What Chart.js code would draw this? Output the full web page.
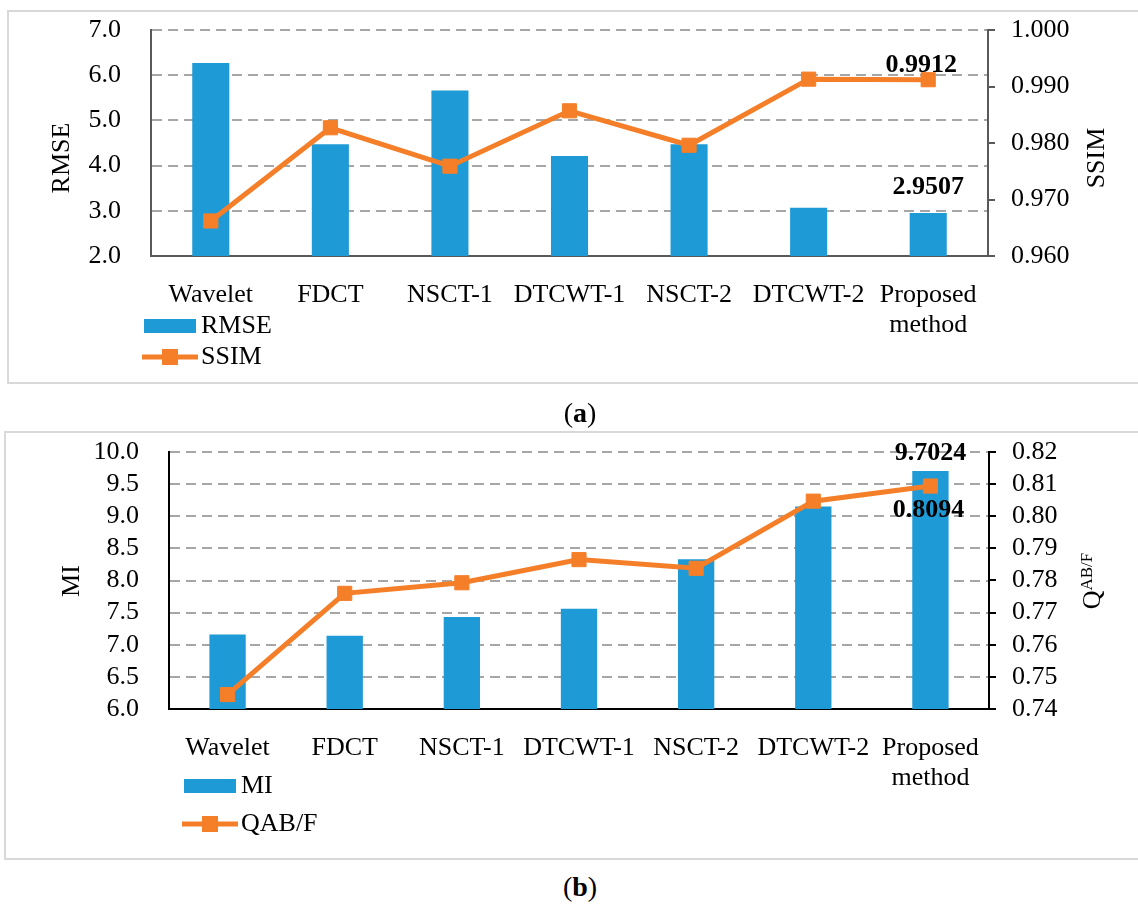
<!DOCTYPE html>
<html>
<head>
<meta charset="utf-8">
<script src="https://cdn.jsdelivr.net/npm/chart.js@4.4.0/dist/chart.umd.min.js"></script>
<style>
body{margin:0;background:#fff;width:1138px;height:906px;overflow:hidden;position:relative;font-family:'Liberation Serif','Times New Roman',serif}
.box{position:absolute;border:2px solid #d9d9d9;box-sizing:border-box;width:1160px}
#boxA{left:7px;top:10px;height:374px}
#boxB{left:4px;top:431px;height:429px}
canvas{position:absolute;left:0}
#chartA{top:0}
#chartB{top:400px}
.cap{position:absolute;left:0;width:1160px;text-align:center;font-size:28px;line-height:30px}
</style>
</head>
<body>
<div class="box" id="boxA"></div>
<div class="box" id="boxB"></div>
<canvas id="chartA" width="1138" height="383"></canvas>
<canvas id="chartB" width="1138" height="460"></canvas>
<div class="cap" style="top:398px">(<b>a</b>)</div>
<div class="cap" style="top:872px">(<b>b</b>)</div>
<script>
// categories and values
const methods = ['Wavelet', 'FDCT', 'NSCT-1', 'DTCWT-1', 'NSCT-2', 'DTCWT-2', ['Proposed', 'method']];
const rmse = [6.27, 4.47, 5.66, 4.21, 4.47, 3.07, 2.9507];
const ssim = [0.9662, 0.9827, 0.9759, 0.9857, 0.9796, 0.9913, 0.9912];
const mi = [7.16, 7.14, 7.43, 7.56, 8.33, 9.15, 9.7024];
const qabf = [0.7445, 0.7760, 0.7793, 0.7865, 0.7838, 0.8047, 0.8094];

// axis tick ranges
const rmseTicks = [2, 3, 4, 5, 6, 7];
const ssimTicks = [0.96, 0.97, 0.98, 0.99, 1.0];
const miTicks = [6, 6.5, 7, 7.5, 8, 8.5, 9, 9.5, 10];
const qabfTicks = [0.74, 0.75, 0.76, 0.77, 0.78, 0.79, 0.80, 0.81, 0.82];

const BLUE = '#1e9ad6';
const ORANGE = '#f57f29';
const GRID = '#a6a6a6';
const FAMILY = "'Liberation Serif', 'Times New Roman', serif";

Chart.defaults.font.family = FAMILY;
Chart.defaults.font.size = 26;
Chart.defaults.color = '#000';

// axis titles, legend and value labels
const extras = {
  id: 'extras',
  afterDraw(chart, args, o) {
    const ctx = chart.ctx;
    ctx.save();
    ctx.fillStyle = '#000';

    o.titles.forEach(t => {
      ctx.save();
      ctx.translate(t.x, t.y);
      ctx.rotate(-Math.PI / 2);
      ctx.font = '26px ' + FAMILY;
      if (!t.sup) {
        ctx.textAlign = 'center';
        ctx.textBaseline = 'middle';
        ctx.fillText(t.text, 0, 0);
      } else {
        const w1 = ctx.measureText(t.text).width;
        ctx.font = '17px ' + FAMILY;
        const w2 = ctx.measureText(t.sup).width;
        const x0 = -(w1 + w2) / 2;
        ctx.textAlign = 'left';
        ctx.textBaseline = 'alphabetic';
        ctx.font = '26px ' + FAMILY;
        ctx.fillText(t.text, x0, 9);
        ctx.font = '17px ' + FAMILY;
        ctx.fillText(t.sup, x0 + w1, 1);
      }
      ctx.restore();
    });

    const L = o.legend;
    const ds = chart.data.datasets;
    ctx.fillStyle = BLUE;
    ctx.fillRect(L.x, L.y - 7, 52, 14);
    const ly = L.y + L.gap;
    ctx.strokeStyle = ORANGE;
    ctx.lineWidth = 5;
    ctx.beginPath();
    ctx.moveTo(L.x - 2, ly);
    ctx.lineTo(L.x + 54, ly);
    ctx.stroke();
    ctx.fillStyle = ORANGE;
    ctx.fillRect(L.x + 26 - 8, ly - 8, 16, 16);
    ctx.fillStyle = '#000';
    ctx.font = '26px ' + FAMILY;
    ctx.textAlign = 'left';
    ctx.textBaseline = 'middle';
    ctx.fillText(ds[0].label, L.x + 57, L.y);
    ctx.fillText(ds[1].label, L.x + 57, ly);

    ctx.font = 'bold 26px ' + FAMILY;
    ctx.textAlign = 'center';
    o.values.forEach(v => {
      const el = chart.getDatasetMeta(v.ds).data[v.i];
      const val = ds[v.ds].data[v.i];
      ctx.fillText(val.toFixed(4), el.x + v.dx, el.y + v.dy);
    });
    ctx.restore();
  }
};

function makeChart(id, cfg) {
  const first = cfg.leftTicks, second = cfg.rightTicks;
  return new Chart(document.getElementById(id), {
    data: {
      labels: methods,
      datasets: [
        {type: 'bar', label: cfg.barName, data: cfg.bars, yAxisID: 'y', backgroundColor: BLUE,
          barPercentage: 0.31, categoryPercentage: 1, order: 1},
        {type: 'line', label: cfg.lineName, data: cfg.line, yAxisID: 'y1', borderColor: ORANGE,
          backgroundColor: ORANGE, borderWidth: 5, pointStyle: 'rect', pointRadius: 10,
          pointBorderWidth: 1, pointBorderColor: ORANGE, pointBackgroundColor: ORANGE, order: 0}
      ]
    },
    options: {
      responsive: false,
      animation: false,
      layout: {padding: {top: cfg.top, left: 0, right: 0, bottom: 0}},
      plugins: {legend: {display: false}, tooltip: {enabled: false}, extras: cfg.extras},
      scales: {
        x: {
          grid: {display: false},
          border: {color: cfg.axis, width: 2},
          ticks: {padding: 17, maxRotation: 0, autoSkip: false, font: {lineHeight: 1.12}},
          afterFit: s => { s.height = cfg.xHeight; }
        },
        y: {
          position: 'left',
          min: first[0], max: first[first.length - 1],
          ticks: {stepSize: first[1] - first[0], padding: 30, autoSkip: false, callback: v => v.toFixed(1)},
          grid: {drawTicks: false, lineWidth: 2, color: c => c.index === 0 ? 'rgba(0,0,0,0)' : GRID},
          border: {color: cfg.axis, width: 2, dash: [10, 6]},
          afterFit: s => { s.width = cfg.leftWidth; s.paddingTop = 0; s.paddingBottom = 0; }
        },
        y1: {
          position: 'right',
          min: second[0], max: second[second.length - 1],
          ticks: {stepSize: 0.01, padding: 16, autoSkip: false, callback: v => v.toFixed(cfg.rightDigits)},
          grid: {drawOnChartArea: false, drawTicks: true, tickLength: 7, color: cfg.axis, lineWidth: 2},
          border: {color: cfg.axis, width: 2},
          afterFit: s => { s.width = cfg.rightWidth; s.paddingTop = 0; s.paddingBottom = 0; }
        }
      }
    },
    plugins: [extras]
  });
}

makeChart('chartA', {
  barName: 'RMSE', lineName: 'SSIM', bars: rmse, line: ssim,
  leftTicks: rmseTicks, rightTicks: ssimTicks, rightDigits: 3,
  axis: '#595959', top: 30, xHeight: 127, leftWidth: 151, rightWidth: 150,
  extras: {
    titles: [{text: 'RMSE', x: 62, y: 158}, {text: 'SSIM', x: 1097, y: 158}],
    legend: {x: 144, y: 326, gap: 31},
    values: [{ds: 1, i: 6, dx: -7, dy: -14}, {ds: 0, i: 6, dx: 0, dy: -26}]
  }
});

makeChart('chartB', {
  barName: 'MI', lineName: 'QAB/F', bars: mi, line: qabf,
  leftTicks: miTicks, rightTicks: qabfTicks, rightDigits: 2,
  axis: '#000000', top: 52, xHeight: 151, leftWidth: 169, rightWidth: 149,
  extras: {
    titles: [{text: 'MI', x: 72, y: 181}, {text: 'Q', sup: 'AB/F', x: 1091, y: 181}],
    legend: {x: 184, y: 386, gap: 38},
    values: [{ds: 0, i: 6, dx: 0, dy: -18}, {ds: 1, i: 6, dx: -2, dy: 24}]
  }
});
</script>
</body>
</html>
